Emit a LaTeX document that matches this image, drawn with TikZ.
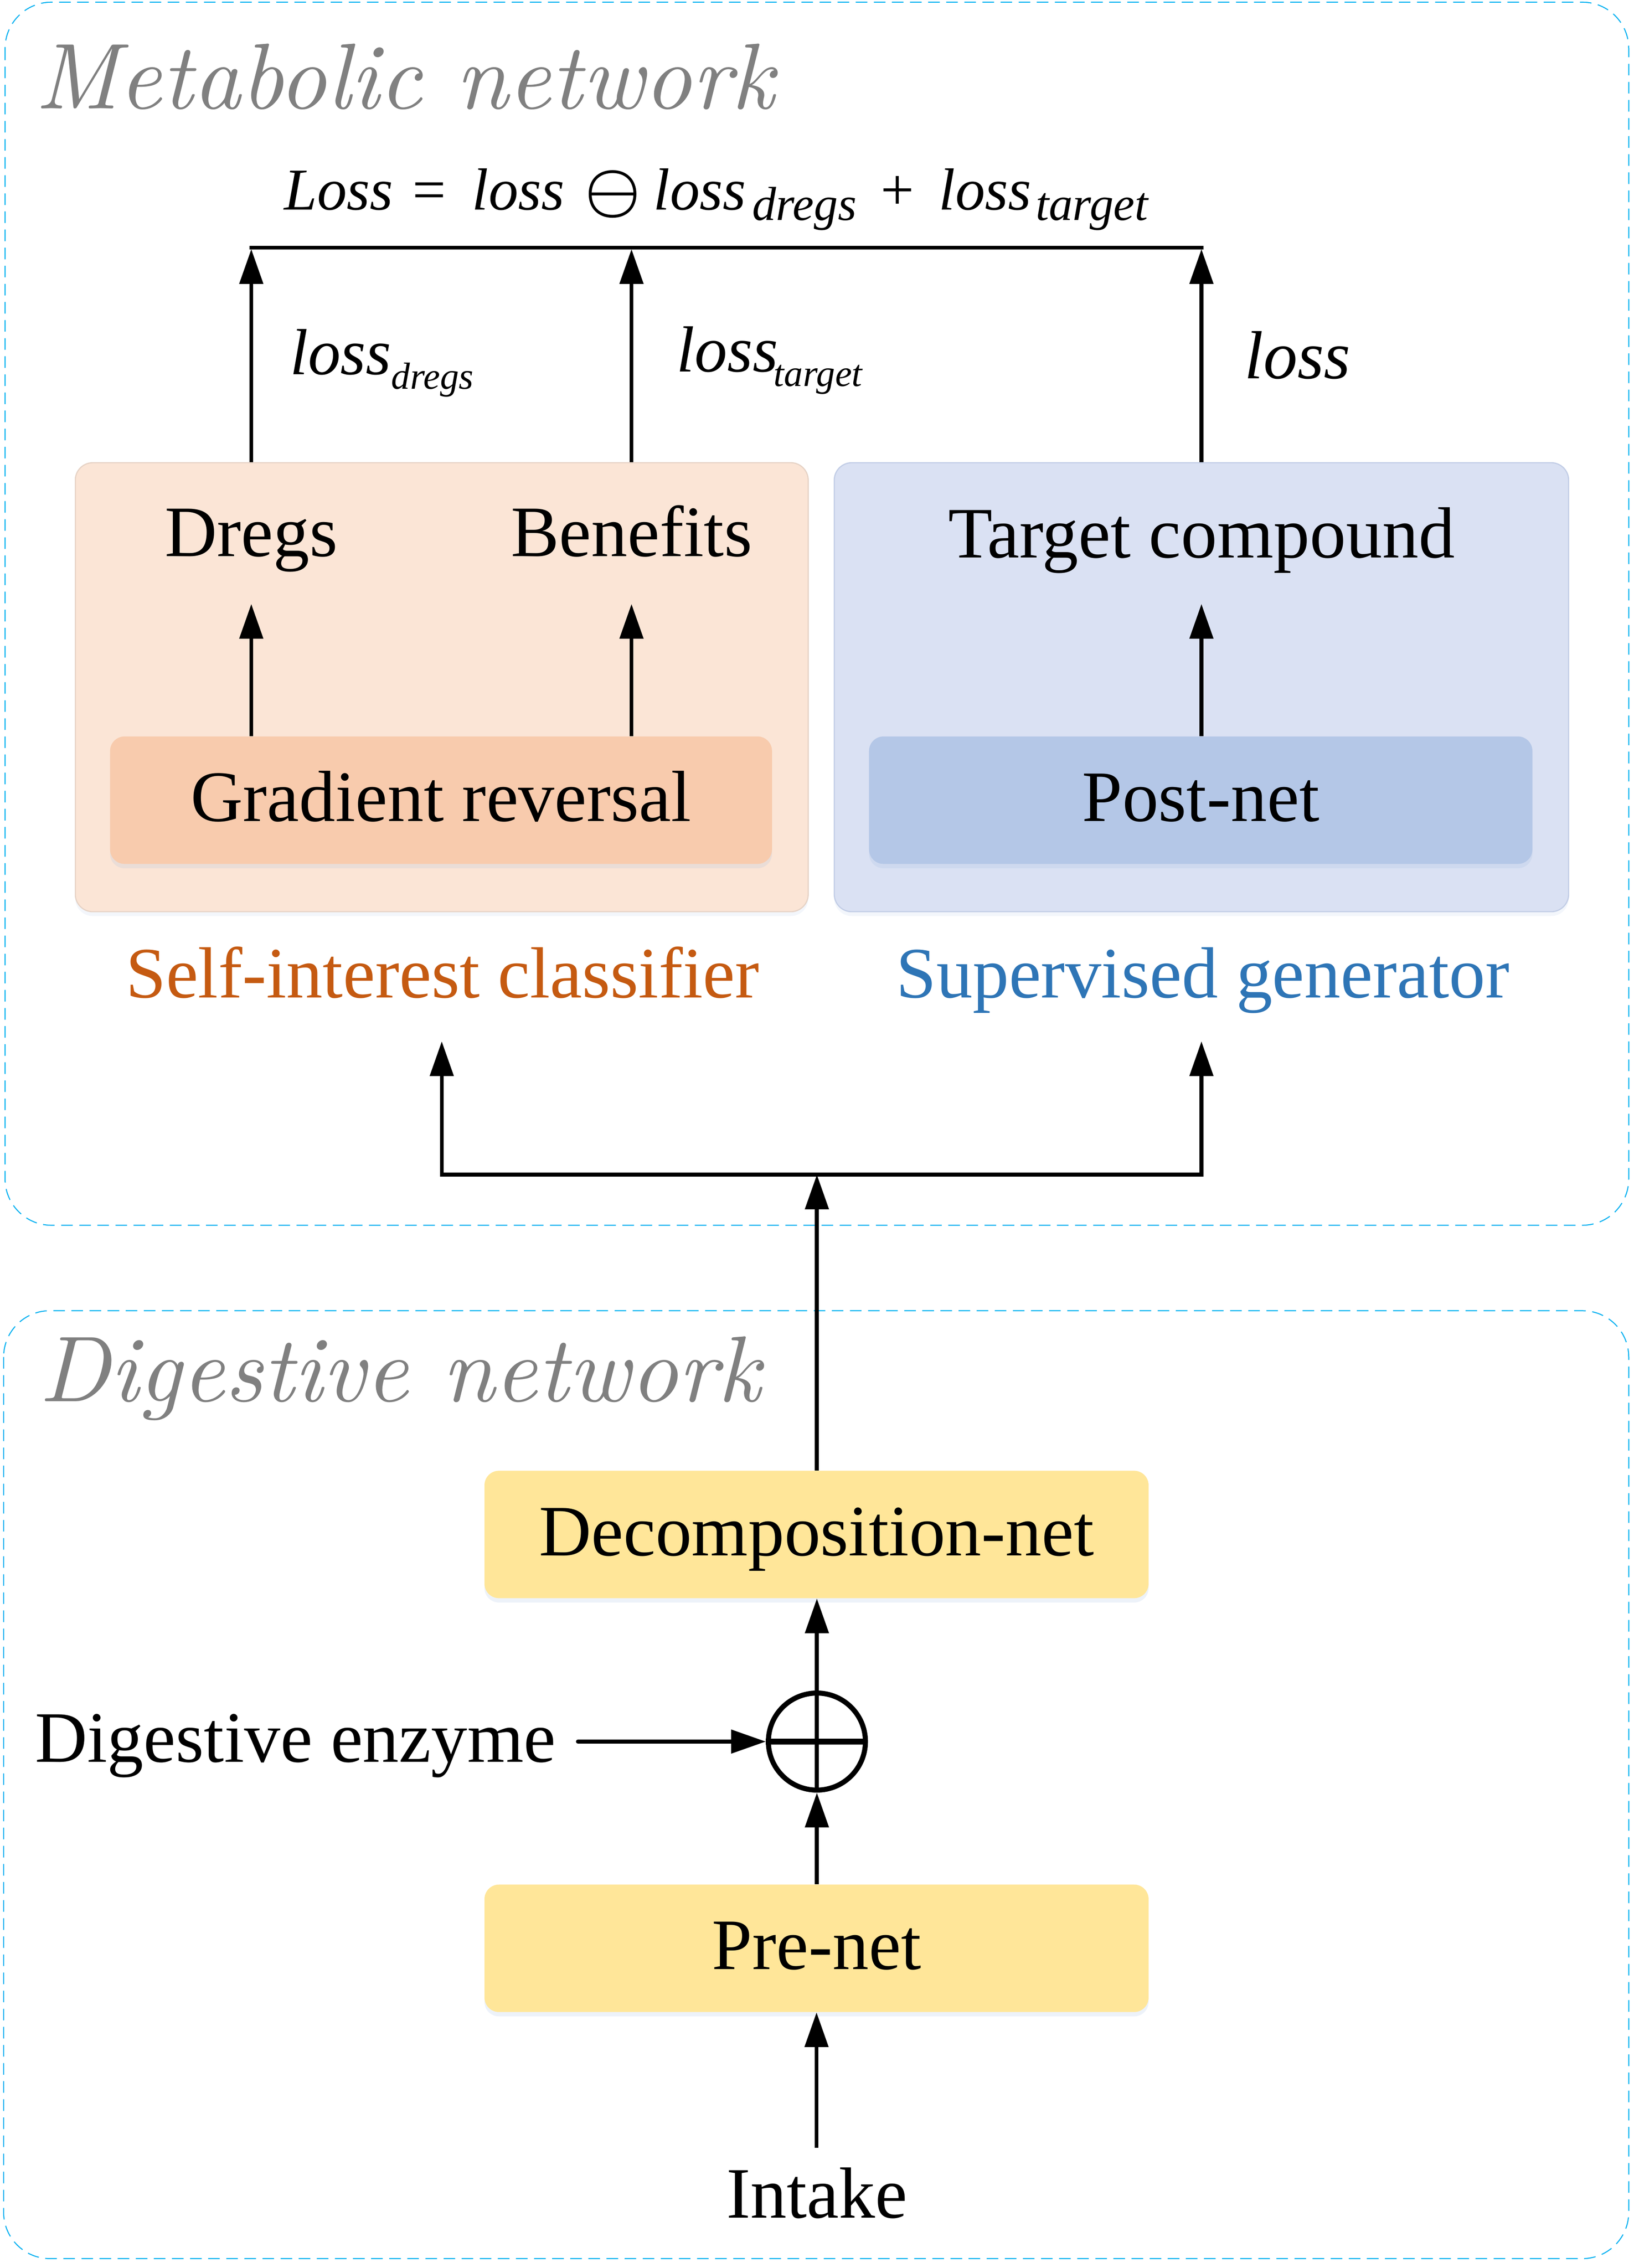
\documentclass[tikz,border=0pt]{standalone}
\usepackage{fontspec}
\setmainfont{Liberation Serif}
\newfontfamily\lmit{lmroman10-italic.otf}
\usetikzlibrary{arrows.meta,shadows}
\definecolor{dashcol}{RGB}{0,176,240}
\definecolor{panelO}{HTML}{FBE5D6}
\definecolor{panelOd}{HTML}{E6D3C6}
\definecolor{panelB}{HTML}{DAE1F3}
\definecolor{panelBd}{HTML}{C2CDE6}
\definecolor{innerO}{HTML}{F8CBAD}
\definecolor{innerB}{HTML}{B4C7E7}
\definecolor{yel}{HTML}{FFE699}
\definecolor{selfcol}{HTML}{C55A11}
\definecolor{supcol}{HTML}{2E75B6}
\definecolor{titlegray}{HTML}{808080}
\definecolor{glow}{HTML}{9DB9E0}
\begin{document}
\begin{tikzpicture}[x=1pt,y=-1pt,
  netbox/.style={draw=dashcol,line width=0.7pt,dash pattern=on 8pt off 4.5pt,rounded corners=32pt},
  nettitle/.style={anchor=base west,inner sep=0pt,text=titlegray,font=\fontsize{64.5}{64.5}\selectfont\lmit},
  panel/.style={rounded corners=12pt,line width=0.8pt,minimum height=310pt,inner sep=0pt,
    drop shadow={shadow xshift=0pt,shadow yshift=-3pt,opacity=0.12,fill=glow}},
  inner/.style={rounded corners=10pt,minimum height=88pt,inner sep=0pt,text height=34pt,text depth=5pt,
    font=\fontsize{50}{50}\selectfont,
    drop shadow={shadow xshift=0pt,shadow yshift=-3pt,opacity=0.18,fill=glow}},
  word/.style={anchor=base,inner sep=0pt,font=\fontsize{50}{50}\selectfont},
  losslab/.style={anchor=base west,inner sep=0pt,font=\fontsize{45}{45}\selectfont\itshape},
  arr/.style={line width=2.7pt,-{Triangle[length=24pt,width=16pt]}},
  plain/.style={line width=2.7pt}]
\useasboundingbox (0,0) rectangle (1128,1566);

% network frames
\draw[netbox] (3.5,1.5) rectangle (1124.5,846);
\draw[netbox] (2.5,905) rectangle (1124.5,1559.5);
\node[nettitle] (mettitle) at (24,75) {Metabolic network};
\node[nettitle] (digtitle) at (27,967.5) {Digestive network};

% loss formula
\node[anchor=base west,inner sep=0pt,font=\fontsize{41}{41}\selectfont\itshape] (formula) at (196,145)
 {Loss\hspace{13.5pt}{\upshape =}\hspace{18pt}loss\hspace{14pt}{\fontsize{10}{10}\selectfont\scalebox{4.3}{\boldmath$\ominus$}}\hspace{9pt}loss\hspace{4.2pt}\raisebox{-7pt}{\fontsize{33}{33}\selectfont dregs}\hspace{16.7pt}{\upshape +}\hspace{17pt}loss\hspace{3pt}\raisebox{-7pt}{\fontsize{33}{33}\selectfont target}};

% panels
\node[panel,fill=panelO,draw=panelOd,minimum width=506pt] (pl) at (305,474.5) {};
\node[panel,fill=panelB,draw=panelBd,minimum width=507pt] (pr) at (829.5,474.5) {};
\node[inner,fill=innerO,minimum width=457pt] (gr) at (304.5,552.5) {Gradient reversal};
\node[inner,fill=innerB,minimum width=458pt] (pn) at (829,552.5) {Post-net};

\node[word] (dregs) at (173.5,384) {Dregs};
\node[word] (benefits) at (436,384) {Benefits};
\node[word] (target) at (829.5,385) {Target compound};

\node[word,text=selfcol] (selfint) at (305.5,689) {Self-interest classifier};
\node[word,text=supcol] (supgen) at (830.5,689) {Supervised generator};

% loss labels
\node[losslab] (lossd) at (200,258.5) {loss\raisebox{-10pt}{\fontsize{26}{26}\selectfont dregs}};
\node[losslab] (losst) at (467,256.7) {loss\hspace{-3pt}\raisebox{-10pt}{\fontsize{26}{26}\selectfont target}};
\node[losslab,font=\fontsize{47}{47}\selectfont\itshape] (lossr) at (859,261.5) {loss};

% top bus
\coordinate (t1) at (173.5,171);
\coordinate (t2) at (436,171);
\coordinate (t3) at (829.5,171);
\draw[plain] ([xshift=-1.3pt]t1) -- ([xshift=1.3pt]t3);
\draw[arr] (t1 |- pl.north) -- ([yshift=-1pt]t1);
\draw[arr] (t2 |- pl.north) -- ([yshift=-1pt]t2);
\draw[arr] (t3 |- pr.north) -- ([yshift=-1pt]t3);

% internal arrows
\coordinate (d1) at (173.5,417);
\coordinate (d2) at (436,417);
\coordinate (d3) at (829.5,417);
\draw[arr] (d1 |- gr.north) -- (d1);
\draw[arr] (d2 |- gr.north) -- (d2);
\draw[arr] (d3 |- pn.north) -- (d3);

% digestive network
\node[inner,fill=yel,minimum width=458.5pt] (dec) at (563.75,1059.5) {Decomposition-net};
\node[inner,fill=yel,minimum width=458.5pt] (pre) at (563.75,1345.25) {Pre-net};
\node[circle,draw,line width=3.5pt,minimum size=67pt,inner sep=0pt,fill=white] (op) at (564,1202.5) {};
\draw[line width=2.7pt] (op.north) -- (op.south);
\draw[line width=3.8pt] (op.west) -- (op.east);
\node[word,anchor=base west] (enz) at (24,1216.5) {Digestive enzyme};
\node[word] (intake) at (564,1531.5) {Intake};

\path (enz.east |- op.west) coordinate (es);
\draw[arr,line cap=round] ([xshift=15pt]es) -- (op.west);
\draw[arr] (pre.north -| op.south) -- (op.south);
\draw[arr] (op.north) -- (dec.south -| op.north);
\draw[arr] ([yshift=13.5pt]intake.north -| pre.south) -- (pre.south);

% split to classifier and generator
\coordinate (jm) at (564,811);
\coordinate (jl) at (305,811);
\coordinate (jr) at (829.5,811);
\coordinate (cl) at (305,719);
\coordinate (cr) at (829.5,719);
\draw[arr] (dec.north -| jm) -- (jm);
\draw[line width=2.7pt,{Triangle[length=24pt,width=16pt]}-{Triangle[length=24pt,width=16pt]}] (cl) -- (jl) -- (jr) -- (cr);
\end{tikzpicture}
\end{document}
